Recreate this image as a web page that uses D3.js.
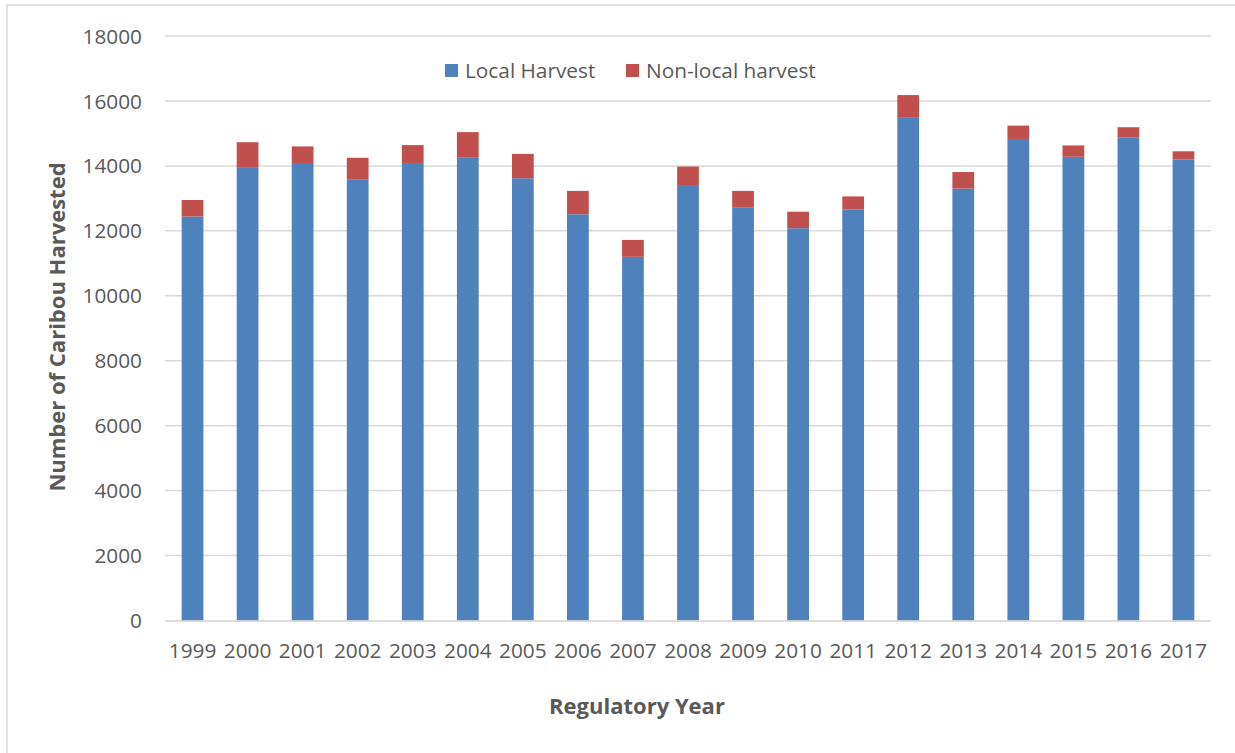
<!DOCTYPE html>
<html>
<head>
<meta charset="utf-8">
<script src="https://cdn.jsdelivr.net/npm/d3@7"></script>
<style>
  html, body { margin: 0; padding: 0; background: #fff; }
  svg { display: block; }
</style>
</head>
<body>
<svg id="chart" width="1235" height="753"></svg>
<script>
const years = ["1999","2000","2001","2002","2003","2004","2005","2006","2007","2008","2009","2010","2011","2012","2013","2014","2015","2016","2017"];
const localHarvest = [12440,13940,14090,13590,14090,14250,13620,12510,11200,13410,12710,12080,12660,15480,13300,14830,14280,14880,14200];
const nonLocalHarvest = [510,790,510,660,550,790,750,720,520,570,520,510,400,700,510,410,350,310,250];
const yTicks = [0,2000,4000,6000,8000,10000,12000,14000,16000,18000];
const seriesNames = ["Local Harvest","Non-local harvest"];
const seriesColors = ["#4f81bd","#c0504d"];

(function(){
const svg = d3.select("#chart");
const font = "'Open Sans', 'Segoe UI', sans-serif";
const textColor = "#595959";
const fs = 20.8, fsBold = 22;

// outer border
svg.append("rect").attr("x",7).attr("y",5).attr("width",1240).attr("height",760)
  .attr("fill","none").attr("stroke","#d9d9d9").attr("stroke-width",1.5);

const pLeft = 165, pRight = 1211, pTop = 36, pBottom = 620.5;
const x = d3.scaleBand().domain(years).range([pLeft,pRight]).paddingInner(0.605).paddingOuter(0.3025);
const y = d3.scaleLinear().domain([0,18000]).range([pBottom,pTop]);

// gridlines
svg.append("g").selectAll("line").data(yTicks.filter(d=>d>0)).join("line")
  .attr("x1",pLeft).attr("x2",pRight).attr("y1",d=>y(d)).attr("y2",d=>y(d))
  .attr("stroke","#d9d9d9").attr("stroke-width",1.5);

// stacked data
const data = years.map((yr,i)=>({year:yr, local:localHarvest[i], nonlocal:nonLocalHarvest[i]}));
const stack = d3.stack().keys(["local","nonlocal"])(data);

svg.append("g").selectAll("g").data(stack).join("g")
  .attr("fill",(d,i)=>seriesColors[i])
  .selectAll("rect").data(d=>d).join("rect")
  .attr("x",d=>x(d.data.year)).attr("width",x.bandwidth())
  .attr("y",d=>y(d[1])).attr("height",d=>y(d[0])-y(d[1]));

// baseline
svg.append("line").attr("x1",pLeft).attr("x2",pRight).attr("y1",pBottom+0.5).attr("y2",pBottom+0.5)
  .attr("stroke","#d0d0d0").attr("stroke-width",1.5);

// y axis
const yAxis = d3.axisLeft(y).tickValues(yTicks).tickSize(0).tickPadding(0).tickFormat(d3.format("d"));
const yg = svg.append("g").attr("transform",`translate(142,0)`).call(yAxis);
yg.select(".domain").remove();
yg.selectAll("text").attr("font-family",font).attr("font-size",fs).attr("fill",textColor).attr("dy","0.34em");

// x axis
const xAxis = d3.axisBottom(x).tickSize(0).tickPadding(0);
const xg = svg.append("g").attr("transform",`translate(0,${pBottom+23})`).call(xAxis);
xg.select(".domain").remove();
xg.selectAll("text").attr("font-family",font).attr("font-size",fs).attr("fill",textColor).attr("dy","0.71em");

// axis titles
svg.append("text").attr("x",637).attr("y",714).attr("text-anchor","middle")
  .attr("font-family",font).attr("font-weight","bold").attr("font-size",fsBold).attr("fill",textColor)
  .text("Regulatory Year");
svg.append("text").attr("transform","translate(65,327) rotate(-90)").attr("text-anchor","middle")
  .attr("font-family",font).attr("font-weight","bold").attr("font-size",fsBold).attr("fill",textColor)
  .text("Number of Caribou Harvested");

// legend
const legendPos = [445, 626];
const lg = svg.append("g");
seriesNames.forEach((n,i)=>{
  lg.append("rect").attr("x",legendPos[i]).attr("y",64).attr("width",13).attr("height",13).attr("fill",seriesColors[i]);
  lg.append("text").attr("x",legendPos[i]+20).attr("y",70.5).attr("dy","0.34em")
    .attr("font-family",font).attr("font-size",fs).attr("fill",textColor).text(n);
});
})();
</script>
</body>
</html>
